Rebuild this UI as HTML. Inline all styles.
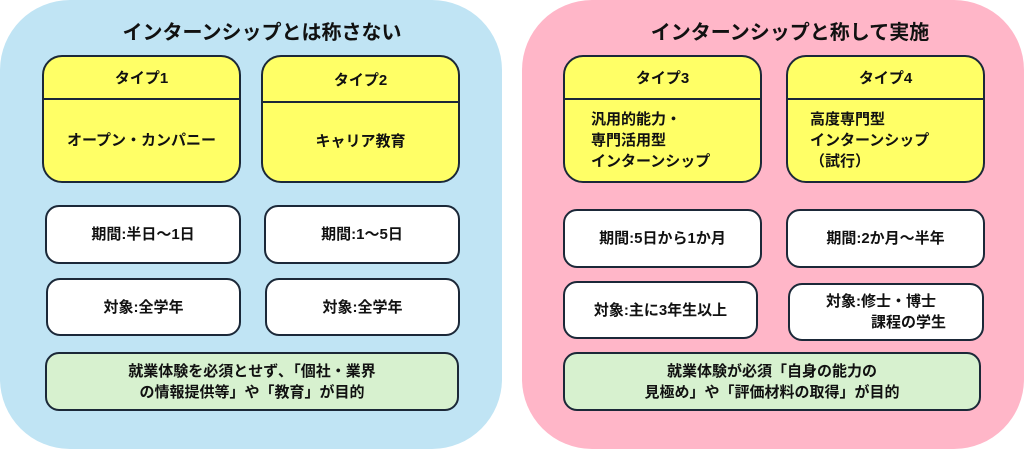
<!DOCTYPE html>
<html><head><meta charset="utf-8"><style>
html,body{margin:0;padding:0;width:1024px;height:453px;background:#fff;overflow:hidden}
*{box-sizing:border-box}
body{font-family:"Liberation Sans","Noto Sans CJK JP",sans-serif;font-weight:bold;color:#111;position:relative}
.p{position:absolute;border-radius:70px}
.t{position:absolute;font-size:20px;text-align:center;line-height:30px}
.b{position:absolute;border:2px solid #1b2838;border-radius:14px;display:flex;align-items:center;justify-content:center;text-align:center;font-size:15px;line-height:21px}
.y{position:absolute;border:2px solid #1b2838;border-radius:20px;background:#ffff66;font-size:15px;overflow:hidden}
.y .h{height:43px;border-bottom:2px solid #1b2838;display:flex;align-items:center;justify-content:center}
.y .c{display:flex;align-items:center;justify-content:center;height:80px;line-height:21px}
.w{background:#fff}.g{background:#d7f1cf}
</style></head><body>
<div class="p" style="left:0;top:0;width:502px;height:449px;background:#c0e4f4"></div>
<div class="p" style="left:522px;top:0;width:502px;height:449px;background:#ffb6c8"></div>
<div class="t" style="left:0;top:18px;width:524px">インターンシップとは称さない</div>
<div class="t" style="left:540px;top:18px;width:500px">インターンシップと称して実施</div>

<div class="y" style="left:42px;top:55px;width:199px;height:128px"><div class="h">タイプ1</div><div class="c">オープン・カンパニー</div></div>
<div class="y" style="left:261px;top:55px;width:199px;height:128px"><div class="h" style="height:46px">タイプ2</div><div class="c" style="height:77px">キャリア教育</div></div>
<div class="y" style="left:563px;top:55px;width:199px;height:128px"><div class="h">タイプ3</div><div class="c" style="justify-content:flex-start;padding-left:26px;text-align:left">汎用的能力・<br>専門活用型<br>インターンシップ</div></div>
<div class="y" style="left:786px;top:55px;width:199px;height:128px"><div class="h">タイプ4</div><div class="c" style="justify-content:flex-start;padding-left:22px;text-align:left">高度専門型<br>インターンシップ<br>（試行）</div></div>

<div class="b w" style="left:45px;top:205px;width:196px;height:59px">期間:半日～1日</div>
<div class="b w" style="left:264px;top:205px;width:196px;height:59px">期間:1～5日</div>
<div class="b w" style="left:46px;top:278px;width:195px;height:58px">対象:全学年</div>
<div class="b w" style="left:265px;top:278px;width:195px;height:58px">対象:全学年</div>
<div class="b g" style="left:45px;top:352px;width:414px;height:59px">就業体験を必須とせず､「個社・業界<br>の情報提供等」や「教育」が目的</div>

<div class="b w" style="left:563px;top:209px;width:199px;height:59px">期間:5日から1か月</div>
<div class="b w" style="left:786px;top:209px;width:199px;height:59px">期間:2か月～半年</div>
<div class="b w" style="left:563px;top:281px;width:195px;height:58px">対象:主に3年生以上</div>
<div class="b w" style="left:788px;top:283px;width:196px;height:58px;text-align:left">対象:修士・博士<br>&emsp;&emsp;&emsp;課程の学生</div>
<div class="b g" style="left:563px;top:352px;width:418px;height:59px">就業体験が必須「自身の能力の<br>見極め」や「評価材料の取得」が目的</div>
</body></html>
